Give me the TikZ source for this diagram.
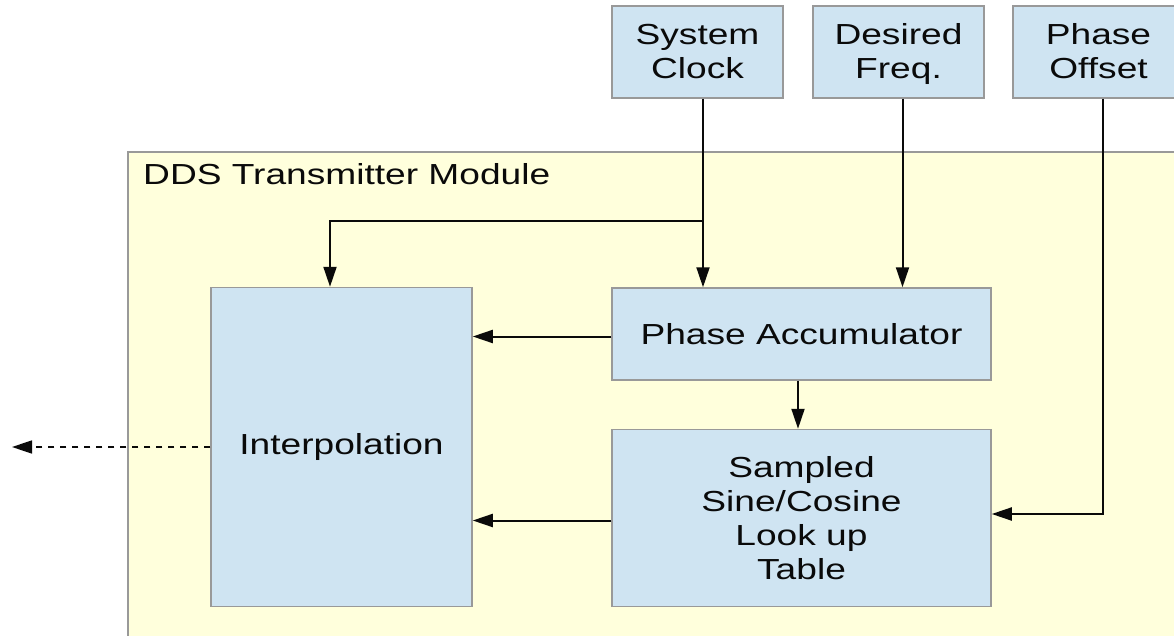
\documentclass[tikz,border=0pt]{standalone}
\usepackage{fontspec}
\setmainfont[FakeStretch=1.28]{Liberation Sans}
\usetikzlibrary{arrows.meta}

\definecolor{blockblue}{HTML}{CFE4F2}
\definecolor{moduleyellow}{HTML}{FFFFDC}
\definecolor{edgegray}{HTML}{999999}
\definecolor{inkblack}{HTML}{0A0A0A}

% top-line strut used in the input boxes
\newcommand{\toplinestrut}{\rule{0pt}{25pt}}

\begin{document}
\begin{tikzpicture}[x=1pt,y=-1pt,
  block/.style={draw=edgegray, line width=1.5pt, fill=blockblue, align=center,
    inner sep=0pt, text=inkblack, font=\fontsize{29}{34}\selectfont},
  flow/.style={draw=inkblack, line width=2pt, -{Triangle[length=20pt,width=13pt]}},
  outflow/.style={draw=inkblack, line width=1.6pt, dash pattern=on 6pt off 6pt,
    -{Triangle[length=20pt,width=13pt]}}
]
% canvas
\clip (0,0) rectangle (1174,636);
\fill[white] (0,0) rectangle (1174,636);

% enclosing module
\draw[edgegray, line width=1.5pt, fill=moduleyellow] (128,152) rectangle (1220,700);
\node[anchor=base west, inner sep=0pt, text=inkblack,
      font=\fontsize{29}{34}\selectfont] (modlabel) at (143,185) {DDS Transmitter Module};

% external inputs
\node[block, minimum width=171pt, minimum height=92pt] (sys) at (697.5,52) {\toplinestrut System\\Clock\vphantom{q}};
\node[block, minimum width=171pt, minimum height=92pt] (freq) at (898.5,52) {\toplinestrut Desired\\Freq.};
\node[block, minimum width=171pt, minimum height=92pt] (phase) at (1098.5,52) {\toplinestrut Phase\\Offset\vphantom{q}};

% internal blocks
\node[block, minimum width=379pt, minimum height=92pt] (acc) at (801.5,334) {Phase Accumulator};
\node[block, minimum width=379pt, minimum height=177pt] (lut) at (801.5,518) {Sampled\\Sine/Cosine\\Look up\\Table};
\node[block, minimum width=261pt, minimum height=319pt] (interp) at (341.5,447) {Interpolation};

% routing points
\coordinate (clkx) at (703,0);
\coordinate (freqx) at (902.5,0);
\coordinate (offx) at (1103,0);
\coordinate (accx) at (798,0);
\coordinate (split) at (703,221);
\coordinate (intx) at (330,0);
\coordinate (turn) at (1103,514);
\coordinate (accy) at (0,336.5);
\coordinate (luty) at (0,520.5);
\coordinate (out) at (12,447);

% connectors
\draw[flow] (sys.south -| clkx) -- (acc.north -| clkx);
\draw[flow] (split) -| (interp.north -| intx);
\draw[flow] (freq.south -| freqx) -- (acc.north -| freqx);
\draw[flow] (phase.south -| offx) -- (turn) -- (lut.east |- turn);
\draw[flow] (acc.south -| accx) -- (lut.north -| accx);
\draw[flow] (acc.west |- accy) -- (interp.east |- accy);
\draw[flow] (lut.west |- luty) -- (interp.east |- luty);
\draw[outflow] (interp.west) -- (out);
\end{tikzpicture}
\end{document}
